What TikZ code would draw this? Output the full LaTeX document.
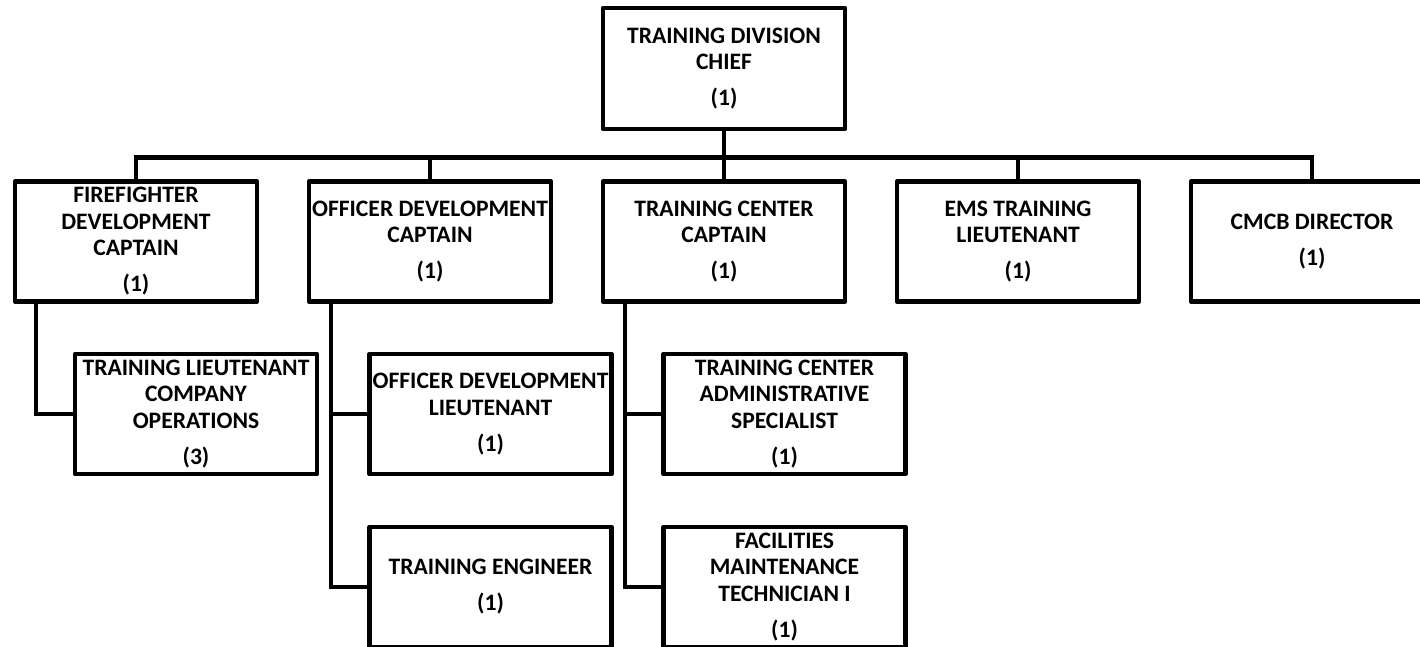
\documentclass[tikz,border=0pt]{standalone}
\usepackage{fontspec}
\setmainfont{Carlito}
\begin{document}
\begin{tikzpicture}[x=1pt,y=-1pt,
  box/.style={draw, line width=4.5pt, line join=round, minimum width=242pt, minimum height=120pt,
    inner sep=0pt, align=center, font=\bfseries\fontsize{23.6}{26.5}\selectfont},
  link/.style={line width=4.5pt, line join=miter}]
\useasboundingbox (0,0) rectangle (1420,646);
\clip (0,0) rectangle (1420,646);
% top
\node[box, minimum height=121pt] (chief) at (724,68.5) {TRAINING DIVISION\\CHIEF\\[9.5pt](1)};
% row 1
\node[box] (ff) at (136,241.5) {FIREFIGHTER\\DEVELOPMENT\\CAPTAIN\\[9.5pt](1)};
\node[box] (od) at (430,241.5) {OFFICER DEVELOPMENT\\CAPTAIN\\[9.5pt](1)};
\node[box] (tc) at (724,241.5) {TRAINING CENTER\\CAPTAIN\\[9.5pt](1)};
\node[box] (ems) at (1018,241.5) {EMS TRAINING\\LIEUTENANT\\[9.5pt](1)};
\node[box] (cmcb) at (1312,241.5) {CMCB DIRECTOR\\[9.5pt](1)};
% row 2
\node[box] (tl) at (196,414) {TRAINING LIEUTENANT\\COMPANY\\OPERATIONS\\[9.5pt](3)};
\node[box] (odl) at (490.5,414) {OFFICER DEVELOPMENT\\LIEUTENANT\\[9.5pt](1)};
\node[box] (tca) at (784.5,414) {TRAINING CENTER\\ADMINISTRATIVE\\SPECIALIST\\[9.5pt](1)};
% row 3
\node[box] (te) at (490.5,587) {TRAINING ENGINEER\\[9.5pt](1)};
\node[box] (fmt) at (784.5,587) {FACILITIES\\MAINTENANCE\\TECHNICIAN I\\[9.5pt](1)};
% bus
\foreach \c in {ff,od,tc,ems,cmcb}
  \draw[link] (chief.south) -- ++(0,26) -| (\c.north);
% sub connectors
\draw[link] ([xshift=23pt]ff.south west) |- (tl.west);
\draw[link] ([xshift=24pt]od.south west) |- (odl.west);
\draw[link] ([xshift=24pt]od.south west) |- (te.west);
\draw[link] ([xshift=24pt]tc.south west) |- (tca.west);
\draw[link] ([xshift=24pt]tc.south west) |- (fmt.west);
\end{tikzpicture}
\end{document}
